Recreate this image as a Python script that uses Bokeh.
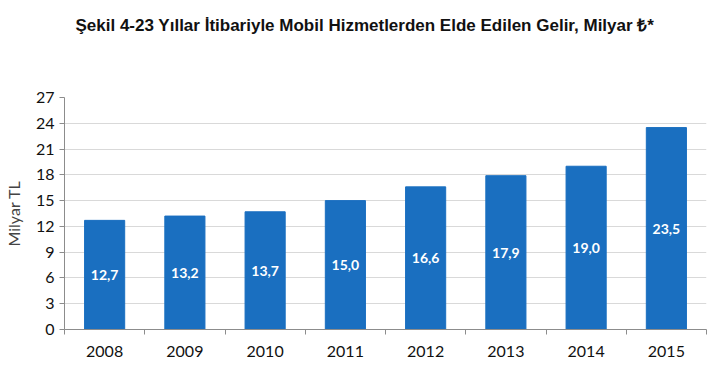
from bokeh.plotting import figure
from bokeh.models import ColumnDataSource, FixedTicker, Range1d, Title
from bokeh.core.properties import value
from bokeh.embed import file_html
from bokeh.resources import INLINE

years = ["2008", "2009", "2010", "2011", "2012", "2013", "2014", "2015"]
revenue = [12.7, 13.2, 13.7, 15.0, 16.6, 17.9, 19.0, 23.5]
y_ticks = [0, 3, 6, 9, 12, 15, 18, 21, 24, 27]

xs = [i + 0.5 for i in range(len(years))]
labels = [f"{v:.1f}".replace(".", ",") for v in revenue]
src = ColumnDataSource(dict(x=xs, top=revenue, mid=[v / 2 for v in revenue], label=labels))

p = figure(width=720, height=377, output_backend="svg", toolbar_location=None,
           x_range=Range1d(0, len(years)), y_range=Range1d(0, 27),
           min_border_left=62, min_border_right=14, min_border_top=12, min_border_bottom=48)
# spacer between title and plot frame (nearest the frame)
p.add_layout(Title(text=" ", text_font_size="40px", standoff=17), "above")
p.add_layout(Title(text="Şekil 4-23 Yıllar İtibariyle Mobil Hizmetlerden Elde Edilen Gelir, Milyar ₺*",
                   align="left", offset=11, text_font="Liberation Sans",
                   text_font_size="17px", text_font_style="bold", text_color="#111111",
                   standoff=0), "above")
# small spacer at the very top
p.title = Title(text=" ", text_font_size="10px", standoff=0)
p.outline_line_color = None
p.background_fill_color = "white"
p.border_fill_color = "white"

p.vbar(x="x", top="top", width=0.5, bottom=0, source=src, color="#1a6fc0")
p.text(x="x", y="mid", text="label", source=src, text_align="center", text_baseline="middle",
       text_color="white", text_font=value("Lato"), text_font_style="bold", text_font_size="14px")

p.xgrid.grid_line_color = None
p.ygrid.grid_line_color = "#d9d9d9"
p.ygrid.ticker = FixedTicker(ticks=y_ticks)

p.yaxis.ticker = FixedTicker(ticks=y_ticks)
p.yaxis.axis_label = "Milyar TL"
p.yaxis.axis_label_text_font = "Lato"
p.yaxis.axis_label_text_font_style = "normal"
p.yaxis.axis_label_text_font_size = "16px"
p.yaxis.axis_label_standoff = 10
p.yaxis.major_label_text_font = "Lato"
p.yaxis.major_label_text_font_size = "16px"
p.yaxis.major_label_text_color = "#111111"
p.yaxis.axis_line_color = "#8c8c8c"
p.yaxis.major_tick_line_color = "#8c8c8c"
p.yaxis.major_tick_in = 0
p.yaxis.major_tick_out = 5
p.yaxis.minor_tick_line_color = None

p.xaxis.ticker = FixedTicker(ticks=xs, minor_ticks=list(range(len(years) + 1)))
p.xaxis.major_label_overrides = {x: y for x, y in zip(xs, years)}
p.xaxis.major_label_text_font = "Lato"
p.xaxis.major_label_text_font_size = "16px"
p.xaxis.major_label_text_color = "#111111"
p.xaxis.major_label_standoff = 10
p.xaxis.axis_line_color = "#8c8c8c"
p.xaxis.major_tick_line_color = None
p.xaxis.minor_tick_line_color = "#8c8c8c"
p.xaxis.minor_tick_in = 0
p.xaxis.minor_tick_out = 5

open("out.html", "w").write(file_html(p, INLINE))
